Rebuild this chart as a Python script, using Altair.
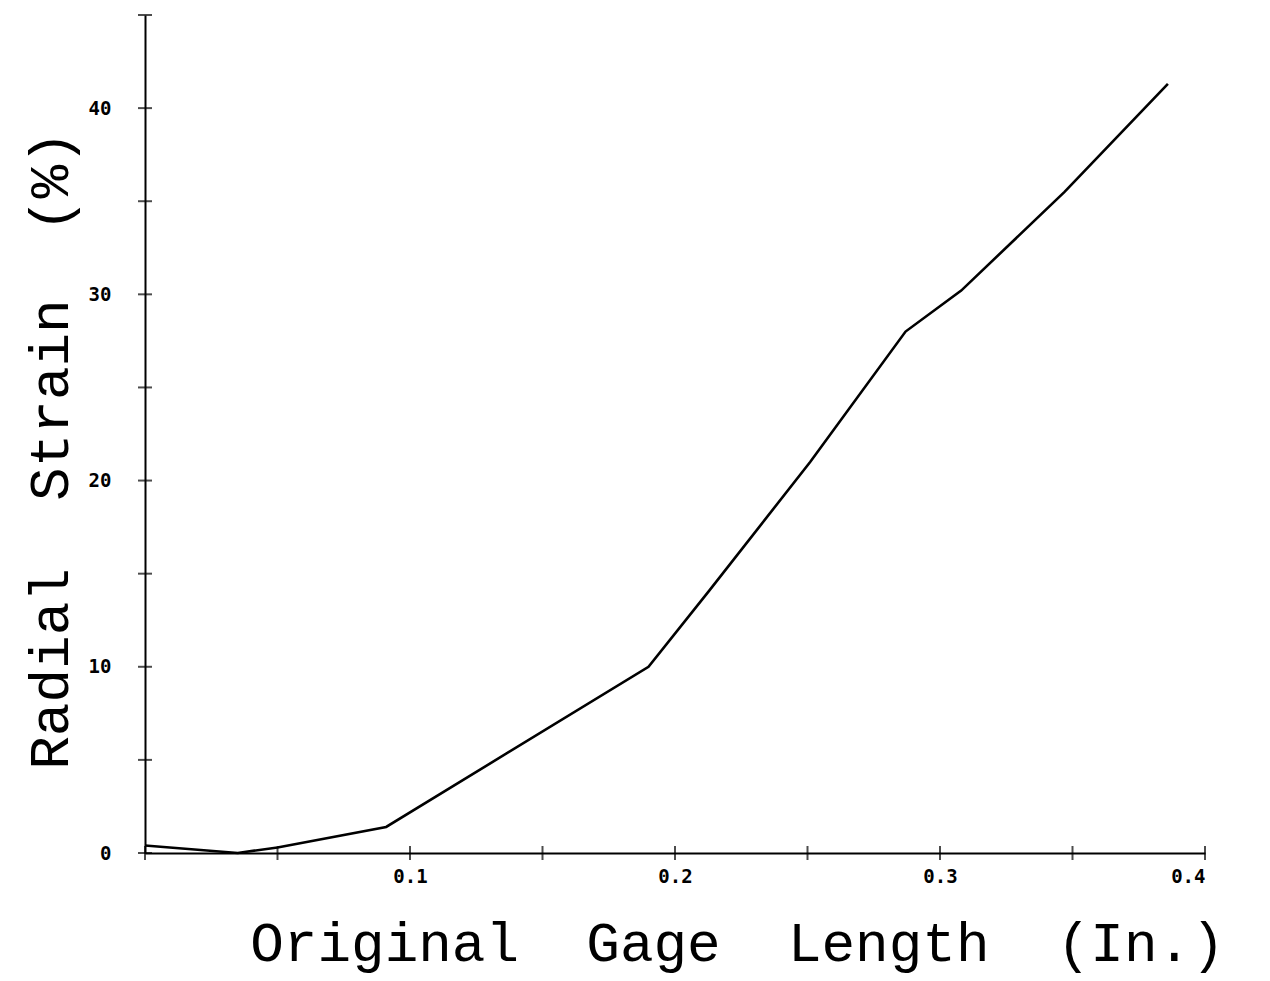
import altair as alt
import pandas as pd

# Curve values
gage_length = [0.0, 0.035, 0.05, 0.091, 0.19, 0.213, 0.251, 0.287, 0.308, 0.347, 0.386]
radial_strain = [0.4, 0.0, 0.3, 1.4, 10.0, 14.1, 21.0, 28.0, 30.2, 35.5, 41.3]

# Axis ticks / labels
x_tick_values = [0.0, 0.05, 0.1, 0.15, 0.2, 0.25, 0.3, 0.35, 0.4]
x_label_values = [0.1, 0.2, 0.3, 0.4]
y_tick_values = [0, 5, 10, 15, 20, 25, 30, 35, 40, 45]
y_label_values = [0, 10, 20, 30, 40]

NB = "\u00a0"
x_title = f"Original{NB}{NB}Gage{NB}{NB}Length{NB}{NB}(In.)"
y_title = f"Radial{NB}{NB}Strain{NB}{NB}(%)"

df = pd.DataFrame({"x": gage_length, "y": radial_strain})
xt = pd.DataFrame({"xt": x_tick_values})
yt = pd.DataFrame({"yt": y_tick_values})

W, H = 1060, 838
xscale = alt.Scale(domain=[0, 0.4], nice=False, zero=False)
yscale = alt.Scale(domain=[0, 45], nice=False, zero=False)

x_axis = alt.Axis(
    values=x_label_values, format=".1f", ticks=False, grid=False,
    domainColor="black", domainWidth=2,
    labelFont="DejaVu Sans Mono", labelFontWeight="bold", labelFontSize=19,
    labelColor="black", labelPadding=14,
    title=x_title,
    titleFont="Liberation Mono", titleFontSize=56, titleFontWeight="normal",
    titleColor="black", titleX=592, titleY=90, titleBaseline="middle",
    titleAlign="center")
y_axis = alt.Axis(
    values=y_label_values, format="d", ticks=False, grid=False,
    domainColor="black", domainWidth=2,
    labelFont="DejaVu Sans Mono", labelFontWeight="bold", labelFontSize=19,
    labelColor="black", labelPadding=34,
    title=y_title,
    titleFont="Liberation Mono", titleFontSize=56, titleFontWeight="normal",
    titleColor="black", titleX=-95, titleY=435, titleBaseline="middle",
    titleAlign="center", titleAngle=270)

line = alt.Chart(df).mark_line(color="black", strokeWidth=2.6).encode(
    x=alt.X("x:Q", scale=xscale, axis=x_axis),
    y=alt.Y("y:Q", scale=yscale, axis=y_axis),
)

xticks = alt.Chart(xt).mark_tick(orient="vertical", color="black", size=14, thickness=2).encode(
    x=alt.X("xt:Q", scale=xscale, axis=x_axis),
    y=alt.datum(0, scale=yscale),
)
yticks = alt.Chart(yt).mark_tick(orient="horizontal", color="black", size=14, thickness=2).encode(
    y=alt.Y("yt:Q", scale=yscale, axis=y_axis),
    x=alt.datum(0, scale=xscale),
)

chart = alt.layer(line, xticks, yticks).properties(
    width=W, height=H,
    background="white",
    autosize=alt.AutoSizeParams(type="none"),
    padding={"left": 137, "top": 7, "right": 50, "bottom": 126},
).configure_view(stroke=None, strokeWidth=0)

chart.save("out.html", embed_options={"renderer": "svg", "actions": False})
